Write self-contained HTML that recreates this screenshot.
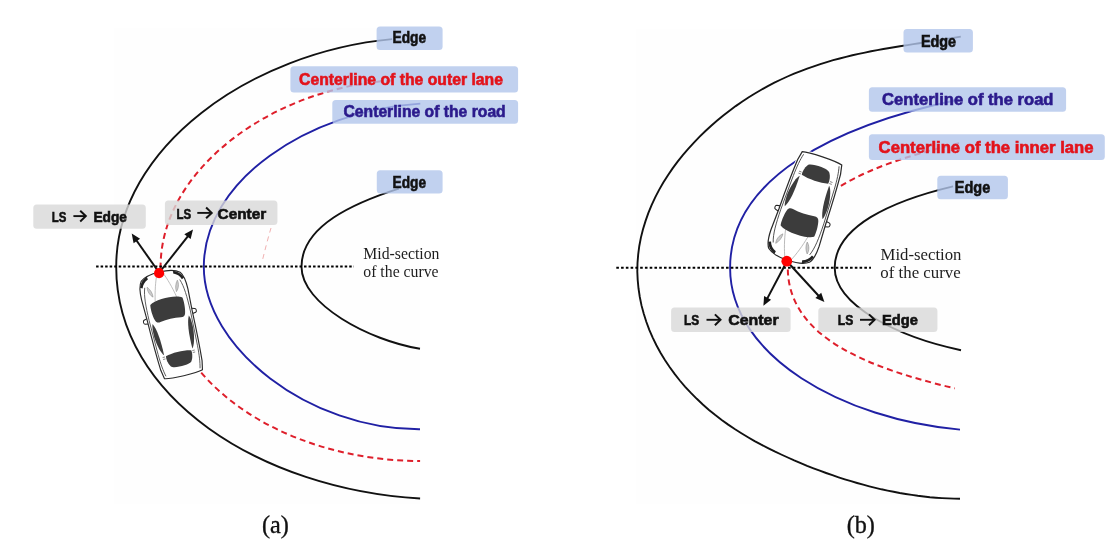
<!DOCTYPE html><html><head><meta charset="utf-8"><style>html,body{margin:0;padding:0;background:#fff;overflow:hidden}svg{display:block;will-change:transform}</style></head><body><svg width="1107" height="541" viewBox="0 0 1107 541">
<rect width="1107" height="541" fill="#fff"/>
<rect x="114" y="28" width="306" height="476" fill="#fefefe"/>
<rect x="636" y="29" width="324" height="475" fill="#fefefe"/>
<path d="M392.1,39.1 C251.3,52.1 116.2,147.0 116.2,266.8 C116.2,397.8 261.8,489.5 420.1,498.5" fill="none" stroke="#111" stroke-width="1.9"/>
<path d="M392.0,80.5 C275.2,87.4 160.6,167.6 160.6,266.8 C160.6,381.7 282.8,460.3 420.1,461.1" fill="none" stroke="#de1f2b" stroke-width="2.0" stroke-dasharray="6 4"/>
<path d="M420.3,103.6 C307.7,110.8 203.8,180.8 203.8,266.8 C203.8,347.2 308.7,429.8 420.0,429.3" fill="none" stroke="#2020a4" stroke-width="1.9"/>
<path d="M398.8,188.6 C354.8,202.7 301.5,225.6 301.5,266.8 C301.5,304.3 369.1,340.5 420.0,348.8" fill="none" stroke="#111" stroke-width="1.9"/>
<path d="M960.8,36.6 L954.8,37.6 L948.9,38.6 L942.9,39.5 L937.0,40.5 L931.1,41.4 L925.2,42.3 L919.3,43.2 L913.4,44.1 L907.5,45.1 L901.5,46.0 L895.5,47.0 L889.5,48.0 L883.4,49.0 L877.3,50.1 L871.1,51.3 L864.9,52.6 L858.7,53.9 L852.4,55.3 L846.0,56.8 L839.7,58.5 L833.2,60.2 L826.8,62.1 L820.3,64.1 L813.8,66.3 L807.2,68.6 L800.7,71.1 L794.1,73.7 L787.5,76.5 L781.0,79.5 L774.4,82.7 L767.8,86.1 L761.3,89.7 L754.9,93.5 L748.4,97.5 L742.0,101.7 L735.7,106.1 L729.5,110.7 L723.3,115.5 L717.2,120.6 L711.2,125.8 L705.2,131.3 L699.4,136.9 L693.7,142.8 L688.2,148.9 L682.8,155.2 L677.6,161.7 L672.6,168.4 L667.8,175.4 L663.3,182.5 L659.1,189.9 L655.2,197.4 L651.6,205.2 L648.3,213.1 L645.5,221.1 L643.0,229.3 L640.9,237.6 L639.3,246.0 L638.2,254.4 L637.5,263.0 L637.3,271.5 L637.7,280.0 L638.5,288.5 L639.8,297.0 L641.5,305.4 L643.7,313.6 L646.3,321.8 L649.3,329.8 L652.7,337.6 L656.4,345.2 L660.5,352.7 L664.9,360.0 L669.6,367.0 L674.6,373.9 L679.8,380.5 L685.2,386.8 L690.9,392.9 L696.8,398.8 L702.8,404.5 L709.0,409.9 L715.3,415.0 L721.7,419.9 L728.2,424.6 L734.7,429.0 L741.4,433.2 L748.0,437.2 L754.6,441.1 L761.3,444.7 L768.0,448.1 L774.6,451.4 L781.2,454.5 L787.8,457.5 L794.2,460.4 L800.7,463.1 L807.1,465.8 L813.5,468.3 L819.8,470.7 L826.1,473.0 L832.4,475.2 L838.6,477.3 L844.8,479.3 L851.0,481.2 L857.1,483.0 L863.2,484.7 L869.3,486.3 L875.4,487.8 L881.5,489.3 L887.6,490.6 L893.6,491.8 L899.7,493.0 L905.7,494.0 L911.8,494.9 L917.8,495.8 L923.8,496.5 L929.9,497.2 L935.9,497.7 L941.9,498.1 L948.0,498.4 L954.0,498.6 L960.0,498.7" fill="none" stroke="#111" stroke-width="1.9"/>
<path d="M959.0,99.5 C835.7,125.4 730.1,177.4 730.1,267.8 C730.1,356.7 843.7,419.4 960.0,429.6" fill="none" stroke="#2020a4" stroke-width="1.9"/>
<path d="M959.0,143.3 C876.5,162.8 787.8,193.4 787.8,267.8 C787.8,338.6 871.4,368.5 954.9,388.4" fill="none" stroke="#de1f2b" stroke-width="2.0" stroke-dasharray="6 4"/>
<path d="M953.1,186.3 C891.0,201.0 834.7,226.7 834.7,267.8 C834.7,305.6 898.7,337.2 961.0,350.2" fill="none" stroke="#111" stroke-width="1.9"/>
<path d="M271,228 C268,238 265,250 262,262" fill="none" stroke="#f0b0b0" stroke-width="1" stroke-dasharray="5 4"/>
<line x1="96.1" y1="266.5" x2="354" y2="266.5" stroke="#000" stroke-width="2.1" stroke-dasharray="2.5 2.02"/>
<line x1="616.3" y1="267.8" x2="871" y2="267.8" stroke="#000" stroke-width="2.1" stroke-dasharray="2.6 2.17"/>
<g transform="translate(159.5,272) rotate(-13.2) scale(1.0)"><path d="M0,0 C-9,0 -16,1.5 -20,5 C-22.5,8 -23.8,14 -23.8,23 L-23,45 C-22.8,60 -22.3,80 -21.2,96 L-19.5,105 C-13,107 13,107 19.5,105 L21.2,96 C22.3,80 22.8,60 23,45 L23.8,23 C23.8,14 22.5,8 20,5 C16,1.5 9,0 0,0 Z" fill="#fff" stroke="#fff" stroke-width="3"/><path d="M-22.8,42.5 L-26,43.5 C-27.5,44 -27.5,47 -26,47.5 L-22.8,48" fill="#fff" stroke="#222" stroke-width="1"/><path d="M22.8,42.5 L26,43.5 C27.5,44 27.5,47 26,47.5 L22.8,48" fill="#fff" stroke="#222" stroke-width="1"/><path d="M0,0 C-9,0 -16,1.5 -20,5 C-22.5,8 -23.8,14 -23.8,23 L-23,45 C-22.8,60 -22.3,80 -21.2,96 L-19.5,105 C-13,107 13,107 19.5,105 L21.2,96 C22.3,80 22.8,60 23,45 L23.8,23 C23.8,14 22.5,8 20,5 C16,1.5 9,0 0,0 Z" fill="#fff" stroke="#2a2a2a" stroke-width="1.15"/><path d="M-18,12 C-20.8,20 -21.2,30 -21.2,45 L-20.2,80 C-19.8,90 -19,97 -17.5,103 M18,12 C20.8,20 21.2,30 21.2,45 L20.2,80 C19.8,90 19,97 17.5,103" fill="none" stroke="#444" stroke-width="0.8"/><path d="M-3,1.5 C-6,8 -9,18 -11,28 M3,1.5 C6,8 9,18 11,28" fill="none" stroke="#aaa" stroke-width="0.7"/><path d="M-15.5,12 C-13,15 -11.5,19 -12,23 C-14.8,20.5 -16.5,16 -15.5,12 Z" fill="#ccc" stroke="#888" stroke-width="0.5"/><path d="M15.5,12 C13,15 11.5,19 12,23 C14.8,20.5 16.5,16 15.5,12 Z" fill="#ccc" stroke="#888" stroke-width="0.5"/><path d="M-22.6,11 C-21,6.5 -18,3.5 -13.5,1.8 L-13,4.6 C-16.5,6 -19,8.5 -20.2,12.2 Z" fill="#222"/><path d="M22.6,11 C21,6.5 18,3.5 13.5,1.8 L13,4.6 C16.5,6 19,8.5 20.2,12.2 Z" fill="#222"/><path d="M-16.5,30 C-10,25.5 10,25.5 16.5,30 C17.2,33 17,41 15.5,46 C14.8,48.5 13,49.5 10.5,49 C4,47.8 -4,47.8 -10.5,49 C-13,49.5 -14.8,48.5 -15.5,46 C-17,41 -17.2,33 -16.5,30 Z" fill="#3c3c3c"/><path d="M-13,83.5 C-6,81.5 6,81.5 13,83.5 C13.5,86 13,91 10.5,94.5 C8,97.5 -8,97.5 -10.5,94.5 C-13,91 -13.5,86 -13,83.5 Z" fill="#3c3c3c"/><path d="M-18.6,49 C-15.5,55 -14.3,66 -14.5,82 C-16.8,80 -19.3,72 -20,62 C-20.2,56 -19.6,51 -18.6,49 Z" fill="#3c3c3c"/><path d="M18.6,49 C15.5,55 14.3,66 14.5,82 C16.8,80 19.3,72 20,62 C20.2,56 19.6,51 18.6,49 Z" fill="#3c3c3c"/><path d="M-16.5,84 h2.5 M-16.5,86 h2.5 M16.5,84 h-2.5 M16.5,86 h-2.5" stroke="#777" stroke-width="0.8"/></g>
<g transform="translate(787.5,260.3) rotate(198.7) scale(1.07,1.025)"><path d="M0,0 C-9,0 -16,1.5 -20,5 C-22.5,8 -23.8,14 -23.8,23 L-23,45 C-22.8,60 -22.3,80 -21.2,96 L-19.5,105 C-13,107 13,107 19.5,105 L21.2,96 C22.3,80 22.8,60 23,45 L23.8,23 C23.8,14 22.5,8 20,5 C16,1.5 9,0 0,0 Z" fill="#fff" stroke="#fff" stroke-width="3"/><path d="M-22.8,42.5 L-26,43.5 C-27.5,44 -27.5,47 -26,47.5 L-22.8,48" fill="#fff" stroke="#222" stroke-width="1"/><path d="M22.8,42.5 L26,43.5 C27.5,44 27.5,47 26,47.5 L22.8,48" fill="#fff" stroke="#222" stroke-width="1"/><path d="M0,0 C-9,0 -16,1.5 -20,5 C-22.5,8 -23.8,14 -23.8,23 L-23,45 C-22.8,60 -22.3,80 -21.2,96 L-19.5,105 C-13,107 13,107 19.5,105 L21.2,96 C22.3,80 22.8,60 23,45 L23.8,23 C23.8,14 22.5,8 20,5 C16,1.5 9,0 0,0 Z" fill="#fff" stroke="#2a2a2a" stroke-width="1.15"/><path d="M-18,12 C-20.8,20 -21.2,30 -21.2,45 L-20.2,80 C-19.8,90 -19,97 -17.5,103 M18,12 C20.8,20 21.2,30 21.2,45 L20.2,80 C19.8,90 19,97 17.5,103" fill="none" stroke="#444" stroke-width="0.8"/><path d="M-3,1.5 C-6,8 -9,18 -11,28 M3,1.5 C6,8 9,18 11,28" fill="none" stroke="#aaa" stroke-width="0.7"/><path d="M-15.5,12 C-13,15 -11.5,19 -12,23 C-14.8,20.5 -16.5,16 -15.5,12 Z" fill="#ccc" stroke="#888" stroke-width="0.5"/><path d="M15.5,12 C13,15 11.5,19 12,23 C14.8,20.5 16.5,16 15.5,12 Z" fill="#ccc" stroke="#888" stroke-width="0.5"/><path d="M-22.6,11 C-21,6.5 -18,3.5 -13.5,1.8 L-13,4.6 C-16.5,6 -19,8.5 -20.2,12.2 Z" fill="#222"/><path d="M22.6,11 C21,6.5 18,3.5 13.5,1.8 L13,4.6 C16.5,6 19,8.5 20.2,12.2 Z" fill="#222"/><path d="M-16.5,30 C-10,25.5 10,25.5 16.5,30 C17.2,33 17,41 15.5,46 C14.8,48.5 13,49.5 10.5,49 C4,47.8 -4,47.8 -10.5,49 C-13,49.5 -14.8,48.5 -15.5,46 C-17,41 -17.2,33 -16.5,30 Z" fill="#3c3c3c"/><path d="M-13,83.5 C-6,81.5 6,81.5 13,83.5 C13.5,86 13,91 10.5,94.5 C8,97.5 -8,97.5 -10.5,94.5 C-13,91 -13.5,86 -13,83.5 Z" fill="#3c3c3c"/><path d="M-18.6,49 C-15.5,55 -14.3,66 -14.5,82 C-16.8,80 -19.3,72 -20,62 C-20.2,56 -19.6,51 -18.6,49 Z" fill="#3c3c3c"/><path d="M18.6,49 C15.5,55 14.3,66 14.5,82 C16.8,80 19.3,72 20,62 C20.2,56 19.6,51 18.6,49 Z" fill="#3c3c3c"/><path d="M-16.5,84 h2.5 M-16.5,86 h2.5 M16.5,84 h-2.5 M16.5,86 h-2.5" stroke="#777" stroke-width="0.8"/></g>
<line x1="158" y1="271" x2="135.8" y2="239.5" stroke="#111" stroke-width="2"/><path d="M131.7,233.6 L140.1,238.7 L133.6,243.3 Z" fill="#111"/>
<line x1="160.5" y1="271" x2="188.6" y2="235.3" stroke="#111" stroke-width="2"/><path d="M193.0,229.6 L190.6,239.1 L184.3,234.2 Z" fill="#111"/>
<line x1="786" y1="263" x2="766.8" y2="299.4" stroke="#111" stroke-width="2"/><path d="M763.4,305.8 L764.1,296.0 L771.1,299.7 Z" fill="#111"/>
<line x1="788.5" y1="263" x2="819.5" y2="296.7" stroke="#111" stroke-width="2"/><path d="M824.4,302.0 L815.4,298.1 L821.2,292.7 Z" fill="#111"/>
<circle cx="159.1" cy="273.2" r="5.1" fill="#f00"/>
<circle cx="786.8" cy="261.2" r="5.4" fill="#f00"/>
<rect x="376.6" y="26.6" width="66.0" height="23.299999999999997" rx="3.5" fill="rgb(178,197,235)" fill-opacity="0.8"/>
<rect x="290.4" y="66.3" width="227.70000000000005" height="26.10000000000001" rx="3.5" fill="rgb(178,197,235)" fill-opacity="0.8"/>
<rect x="332.3" y="99.9" width="185.8" height="23.89999999999999" rx="3.5" fill="rgb(178,197,235)" fill-opacity="0.8"/>
<rect x="376.8" y="170.3" width="65.80000000000001" height="23.19999999999999" rx="3.5" fill="rgb(178,197,235)" fill-opacity="0.8"/>
<rect x="33.3" y="204.6" width="112.50000000000001" height="24.099999999999994" rx="3.5" fill="rgb(216,216,216)" fill-opacity="0.8"/>
<rect x="164.9" y="200.6" width="112.49999999999997" height="24.30000000000001" rx="3.5" fill="rgb(216,216,216)" fill-opacity="0.8"/>
<rect x="903.5" y="29.1" width="69.39999999999998" height="23.5" rx="3.5" fill="rgb(178,197,235)" fill-opacity="0.8"/>
<rect x="868.9" y="87.3" width="197.19999999999993" height="24.5" rx="3.5" fill="rgb(178,197,235)" fill-opacity="0.8"/>
<rect x="868.9" y="134.3" width="235.89999999999998" height="25.799999999999983" rx="3.5" fill="rgb(178,197,235)" fill-opacity="0.8"/>
<rect x="937.3" y="175.7" width="70.60000000000002" height="23.600000000000023" rx="3.5" fill="rgb(178,197,235)" fill-opacity="0.8"/>
<rect x="671.1" y="307.6" width="119.5" height="24.399999999999977" rx="3.5" fill="rgb(216,216,216)" fill-opacity="0.8"/>
<rect x="818.3" y="307.6" width="119.10000000000002" height="24.399999999999977" rx="3.5" fill="rgb(216,216,216)" fill-opacity="0.8"/>
<text x="392.5" y="43.4" font-size="16.0" fill="#111" stroke="#111" stroke-width="0.6" font-family="Liberation Sans, sans-serif" font-weight="bold" textLength="33.6" lengthAdjust="spacingAndGlyphs">Edge</text>
<text x="299.1" y="85.4" font-size="16.0" fill="#e3131b" stroke="#e3131b" stroke-width="0.6" font-family="Liberation Sans, sans-serif" font-weight="bold" textLength="203.8" lengthAdjust="spacingAndGlyphs">Centerline of the outer lane</text>
<text x="343.5" y="117.3" font-size="16.0" fill="#2b1a8c" stroke="#2b1a8c" stroke-width="0.6" font-family="Liberation Sans, sans-serif" font-weight="bold" textLength="162.2" lengthAdjust="spacingAndGlyphs">Centerline of the road</text>
<text x="392.6" y="187.8" font-size="16.0" fill="#111" stroke="#111" stroke-width="0.6" font-family="Liberation Sans, sans-serif" font-weight="bold" textLength="33.5" lengthAdjust="spacingAndGlyphs">Edge</text>
<text x="51.7" y="221.7" font-size="15.2" fill="#111" stroke="#111" stroke-width="0.6" font-family="Liberation Sans, sans-serif" font-weight="bold" textLength="14.6" lengthAdjust="spacingAndGlyphs">LS</text><path d="M73.4,216.1 H85.2" stroke="#111" stroke-width="1.9" fill="none"/><path d="M80.2,210.7 L85.80000000000001,216.1 L80.2,221.5" stroke="#111" stroke-width="2" fill="none"/><text x="93.4" y="221.7" font-size="15.2" fill="#111" stroke="#111" stroke-width="0.6" font-family="Liberation Sans, sans-serif" font-weight="bold" textLength="33.6" lengthAdjust="spacingAndGlyphs">Edge</text>
<text x="176.4" y="218.5" font-size="15.2" fill="#111" stroke="#111" stroke-width="0.6" font-family="Liberation Sans, sans-serif" font-weight="bold" textLength="14.7" lengthAdjust="spacingAndGlyphs">LS</text><path d="M197.3,212.9 H211.10000000000002" stroke="#111" stroke-width="1.9" fill="none"/><path d="M206.10000000000002,207.5 L211.70000000000002,212.9 L206.10000000000002,218.3" stroke="#111" stroke-width="2" fill="none"/><text x="217.5" y="218.5" font-size="15.2" fill="#111" stroke="#111" stroke-width="0.6" font-family="Liberation Sans, sans-serif" font-weight="bold" textLength="48.8" lengthAdjust="spacingAndGlyphs">Center</text>
<text x="363.3" y="258.5" font-size="16.3" fill="#1e1e1e" font-family="Liberation Serif, serif" textLength="76.1" lengthAdjust="spacingAndGlyphs">Mid-section</text>
<text x="363.3" y="277.3" font-size="16.3" fill="#1e1e1e" font-family="Liberation Serif, serif" textLength="75.3" lengthAdjust="spacingAndGlyphs">of the curve</text>
<text x="262" y="532.8" font-size="25.5" fill="#111" stroke="#111" stroke-width="0.35" font-family="Liberation Serif, serif" textLength="26.9" lengthAdjust="spacingAndGlyphs">(a)</text>
<text x="920.9" y="46.8" font-size="16.0" fill="#111" stroke="#111" stroke-width="0.6" font-family="Liberation Sans, sans-serif" font-weight="bold" textLength="35.2" lengthAdjust="spacingAndGlyphs">Edge</text>
<text x="882.1" y="105.2" font-size="16.0" fill="#2b1a8c" stroke="#2b1a8c" stroke-width="0.6" font-family="Liberation Sans, sans-serif" font-weight="bold" textLength="171.4" lengthAdjust="spacingAndGlyphs">Centerline of the road</text>
<text x="878.6" y="152.9" font-size="16.0" fill="#e3131b" stroke="#e3131b" stroke-width="0.6" font-family="Liberation Sans, sans-serif" font-weight="bold" textLength="214.9" lengthAdjust="spacingAndGlyphs">Centerline of the inner lane</text>
<text x="954.8" y="193.2" font-size="16.0" fill="#111" stroke="#111" stroke-width="0.6" font-family="Liberation Sans, sans-serif" font-weight="bold" textLength="35.4" lengthAdjust="spacingAndGlyphs">Edge</text>
<text x="683.9" y="325.4" font-size="15.2" fill="#111" stroke="#111" stroke-width="0.6" font-family="Liberation Sans, sans-serif" font-weight="bold" textLength="15.2" lengthAdjust="spacingAndGlyphs">LS</text><path d="M706.5,319.8 H719.9" stroke="#111" stroke-width="1.9" fill="none"/><path d="M714.9,314.4 L720.5,319.8 L714.9,325.2" stroke="#111" stroke-width="2" fill="none"/><text x="728.2" y="325.4" font-size="15.2" fill="#111" stroke="#111" stroke-width="0.6" font-family="Liberation Sans, sans-serif" font-weight="bold" textLength="50.5" lengthAdjust="spacingAndGlyphs">Center</text>
<text x="837.8" y="325.4" font-size="15.2" fill="#111" stroke="#111" stroke-width="0.6" font-family="Liberation Sans, sans-serif" font-weight="bold" textLength="15.5" lengthAdjust="spacingAndGlyphs">LS</text><path d="M860,319.8 H874.0" stroke="#111" stroke-width="1.9" fill="none"/><path d="M869.0,314.4 L874.6,319.8 L869.0,325.2" stroke="#111" stroke-width="2" fill="none"/><text x="882" y="325.4" font-size="15.2" fill="#111" stroke="#111" stroke-width="0.6" font-family="Liberation Sans, sans-serif" font-weight="bold" textLength="35.9" lengthAdjust="spacingAndGlyphs">Edge</text>
<text x="880.5" y="259.9" font-size="16.3" fill="#1e1e1e" font-family="Liberation Serif, serif" textLength="81" lengthAdjust="spacingAndGlyphs">Mid-section</text>
<text x="880.3" y="278.4" font-size="16.3" fill="#1e1e1e" font-family="Liberation Serif, serif" textLength="80.4" lengthAdjust="spacingAndGlyphs">of the curve</text>
<text x="846.7" y="532.6" font-size="25.5" fill="#111" stroke="#111" stroke-width="0.35" font-family="Liberation Serif, serif" textLength="28.2" lengthAdjust="spacingAndGlyphs">(b)</text>
</svg></body></html>
